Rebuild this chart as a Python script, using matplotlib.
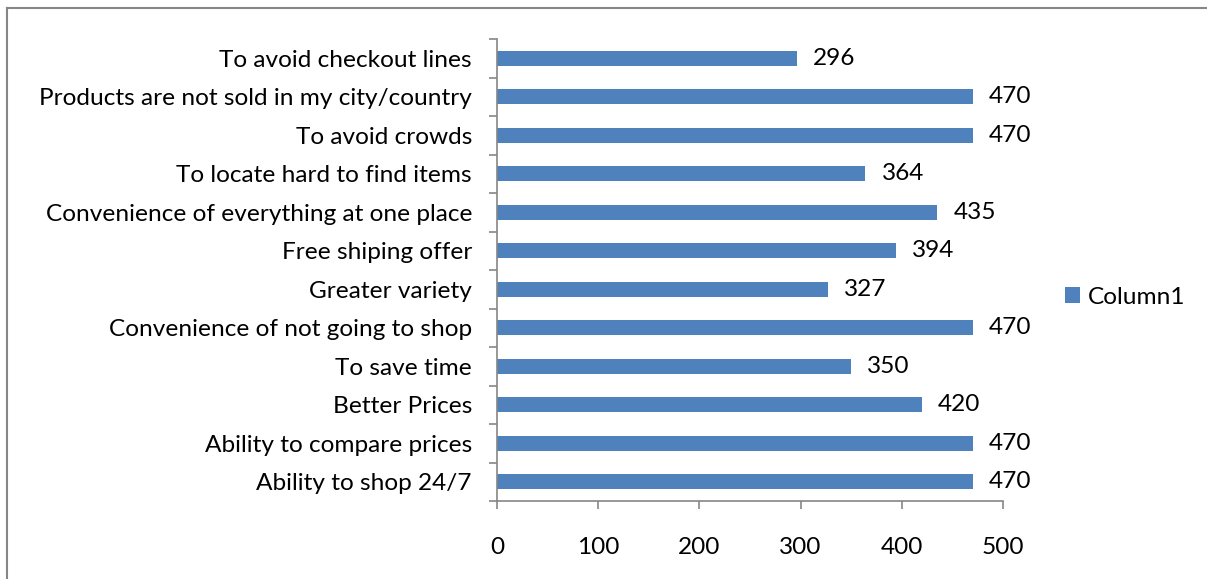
import matplotlib.pyplot as plt
from matplotlib.lines import Line2D

categories = [
    "Ability to shop 24/7",
    "Ability to compare prices",
    "Better Prices",
    "To save time",
    "Convenience of not going to shop",
    "Greater variety",
    "Free shiping offer",
    "Convenience of everything at one place",
    "To locate hard to find items",
    "To avoid crowds",
    "Products are not sold in my city/country",
    "To avoid checkout lines",
]
values = [470, 470, 420, 350, 470, 327, 394, 435, 364, 470, 470, 296]
x_ticks = [0, 100, 200, 300, 400, 500]

plt.rcParams['font.family'] = ['Lato', 'DejaVu Sans']
FS = 17.6
W, H = 1207, 579
fig = plt.figure(figsize=(W / 100, H / 100), dpi=100)

# outer chart border (only top and left edges visible)
fig.add_artist(Line2D([7 / W, 7 / W], [0, 1 - 8 / H], color="#868686", lw=1.5))
fig.add_artist(Line2D([7 / W, 1], [1 - 8 / H, 1 - 8 / H], color="#868686", lw=1.5))

ax = fig.add_axes([497 / W, 1 - 501 / H, (1003 - 497) / W, (501 - 39) / H])
color = "#4F81BD"
ax.barh(range(len(categories)), values, height=0.38, color=color, label="Column1")
ax.set_ylim(-0.5, len(categories) - 0.5)
ax.set_xlim(0, 500)
ax.set_xticks(x_ticks)
ax.set_yticks([i - 0.5 for i in range(len(categories) + 1)])
ax.set_yticklabels([])
ax.set_yticks(range(len(categories)), minor=True)
ax.set_yticklabels(categories, minor=True, fontsize=FS)
ax.tick_params(axis="y", which="minor", length=0, pad=18)
ax.tick_params(axis="y", which="major", length=6, color="#868686", width=1.2)
ax.tick_params(axis="x", length=6, color="#868686", width=1.2, pad=20, labelsize=FS)
for side in ["top", "right"]:
    ax.spines[side].set_visible(False)
for side in ["left", "bottom"]:
    ax.spines[side].set_color("#868686")
    ax.spines[side].set_linewidth(1.2)

for i, v in enumerate(values):
    ax.text(v + 16, i, str(v), va="center", ha="left", fontsize=FS)

ax.legend(loc="center left", bbox_to_anchor=(1043 / W, 1 - 297 / H),
          bbox_transform=fig.transFigure, frameon=False, fontsize=FS,
          handlelength=0.6, handleheight=0.6, handletextpad=0.35)

fig.savefig("out.png", dpi=100)
